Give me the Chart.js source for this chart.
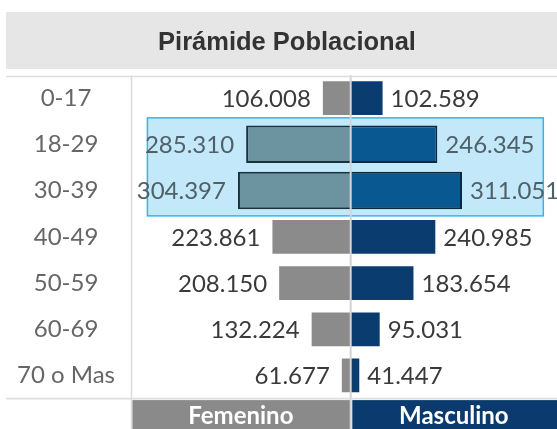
<!DOCTYPE html>
<html><head><meta charset="utf-8">
<script src="https://cdn.jsdelivr.net/npm/chart.js@4"></script>
<style>html,body{margin:0;padding:0;background:#fff}canvas{display:block}</style>
</head><body>
<canvas id="c" width="557" height="429"></canvas>
<script>
const ageGroups = ['0-17','18-29','30-39','40-49','50-59','60-69','70 o Mas'];
const femenino = [106008,285310,304397,223861,208150,132224,61677];
const masculino = [102589,246345,311051,240985,183654,95031,41447];
const highlighted = ['18-29','30-39'];
const sexLabels = ['Femenino','Masculino'];
const chartTitle = 'Pirámide Poblacional';
const gridTicks = [200000, 400000];

const isHL = i => highlighted.includes(ageGroups[i]);
const pick = (arr, hl) => arr.map((v,i) => isHL(i) === hl ? v : null);
const fmt = v => String(v).replace(/\B(?=(\d{3})+(?!\d))/g, '.');

const gridColor = ctx => gridTicks.includes(ctx.tick && ctx.tick.value) ? '#ebebeb' : 'rgba(0,0,0,0)';

const deco = {
  id: 'deco',
  beforeDraw(chart) {
    const {ctx} = chart; const W = chart.width, H = chart.height;
    const t = chart.titleBlock, xF = chart.scales.xF, xM = chart.scales.xM;
    ctx.save();
    ctx.fillStyle = '#fff'; ctx.fillRect(0, 0, W, H);
    ctx.fillStyle = '#e6e6e6'; ctx.fillRect(6, t.top, W - 6, 57);
    ctx.fillStyle = '#8a8a8a'; ctx.fillRect(xF.left + 1.3, xF.top + 1.5, xF.right - xF.left - 1.3, H);
    ctx.fillStyle = '#0b3b6e'; ctx.fillRect(xM.left + 1.6, xM.top + 1.5, xM.right - xM.left, H);
    ctx.restore();
  },
  beforeDatasetsDraw(chart) {
    const {ctx, chartArea: a} = chart; const y = chart.scales.y;
    const idx = highlighted.map(h => ageGroups.indexOf(h));
    const top = y.getPixelForValue(Math.min(...idx)) - 26.5;
    const bot = y.getPixelForValue(Math.max(...idx)) + 25.3;
    const l = a.left + 16.4, r = a.right - 13.7;
    ctx.save();
    ctx.fillStyle = 'rgba(135,210,245,0.5)';
    ctx.fillRect(l, top, r - l, bot - top);
    ctx.strokeStyle = '#33b6ec'; ctx.lineWidth = 1.5;
    ctx.strokeRect(l, top, r - l, bot - top);
    ctx.restore();
  },
  afterDatasetsDraw(chart) {
    const {ctx, chartArea: a} = chart; const W = chart.width, H = chart.height;
    const xF = chart.scales.xF;
    ctx.save();
    // center line
    ctx.strokeStyle = '#d4d4d4'; ctx.lineWidth = 2;
    ctx.beginPath(); ctx.moveTo(xF.right, a.top); ctx.lineTo(xF.right, H); ctx.stroke();
    // separator
    ctx.strokeStyle = '#dcdcdc'; ctx.lineWidth = 1.5;
    ctx.beginPath(); ctx.moveTo(a.left + 0.5, a.top); ctx.lineTo(a.left + 0.5, H); ctx.stroke();
    // horizontal lines
    ctx.strokeStyle = '#dedede'; ctx.lineWidth = 1.7;
    ctx.beginPath(); ctx.moveTo(6, a.top + 1.5); ctx.lineTo(W, a.top + 1.5); ctx.stroke();
    ctx.beginPath(); ctx.moveTo(6, a.bottom); ctx.lineTo(W, a.bottom); ctx.stroke();
    // value labels
    ctx.font = '24px Lato';
    ctx.textBaseline = 'middle';
    chart.data.datasets.forEach((ds, di) => {
      const meta = chart.getDatasetMeta(di);
      const female = ds.xAxisID === 'xF';
      meta.data.forEach((el, i) => {
        const v = ds.data[i];
        if (v == null) return;
        ctx.fillStyle = isHL(i) ? '#4f6068' : '#3a3a3a';
        if (female) { ctx.textAlign = 'right'; ctx.fillText(fmt(v), el.x - 12, el.y + 1); }
        else { ctx.textAlign = 'left'; ctx.fillText(fmt(v), el.x + 8, el.y + 1); }
      });
    });
    ctx.restore();
  }
};

const baseBar = { grouped: false, categoryPercentage: 1 };
new Chart(document.getElementById('c'), {
  type: 'bar',
  data: {
    labels: ageGroups,
    datasets: [
      Object.assign({ label: sexLabels[0], xAxisID: 'xF', data: pick(femenino, false), backgroundColor: '#8b8b8b', barPercentage: 0.73 }, baseBar),
      Object.assign({ label: sexLabels[1], xAxisID: 'xM', data: pick(masculino, false), backgroundColor: '#0b3c70', barPercentage: 0.73 }, baseBar),
      Object.assign({ label: sexLabels[0], xAxisID: 'xF', data: pick(femenino, true), backgroundColor: '#6b93a0', borderColor: '#17323d', borderWidth: 2, borderSkipped: false, barPercentage: 0.81 }, baseBar),
      Object.assign({ label: sexLabels[1], xAxisID: 'xM', data: pick(masculino, true), backgroundColor: '#0a5891', borderColor: '#0b2a42', borderWidth: 2, borderSkipped: false, barPercentage: 0.81 }, baseBar)
    ]
  },
  options: {
    indexAxis: 'y',
    responsive: false,
    animation: false,
    layout: { padding: { top: 12, left: 17, right: 0, bottom: 0 } },
    plugins: {
      legend: { display: false },
      tooltip: { enabled: false },
      title: { display: true, text: chartTitle, color: '#333', font: { family: '"Liberation Sans", Arial, sans-serif', size: 25.5, weight: 'bold', lineHeight: 1.2 }, padding: { top: 15.5, bottom: 16.9 } }
    },
    scales: {
      y: {
        type: 'category', offset: true,
        grid: { display: false, drawTicks: false },
        border: { display: false },
        ticks: { font: { family: 'Lato', size: 24 }, color: '#666', crossAlign: 'center', padding: 16 },
        afterFit: s => { s.width = 114; }
      },
      xF: {
        type: 'linear', position: 'bottom', stack: 'sex', stackWeight: 219.7, reverse: true,
        min: 41000, max: 554300,
        ticks: { display: false, stepSize: 200000 },
        grid: { drawTicks: false, color: gridColor, lineWidth: 1 },
        border: { display: false },
        title: { display: true, text: sexLabels[0], color: '#fff', font: { family: 'Lato', size: 24, weight: 'bold', lineHeight: 0.84 }, padding: { top: 8, bottom: 0 } }
      },
      xM: {
        type: 'linear', position: 'bottom', stack: 'sex', stackWeight: 206.3,
        min: 18900, max: 560400,
        ticks: { display: false, stepSize: 200000 },
        grid: { drawTicks: false, color: gridColor, lineWidth: 1 },
        border: { display: false },
        title: { display: true, text: sexLabels[1], color: '#fff', font: { family: 'Lato', size: 24, weight: 'bold', lineHeight: 0.84 }, padding: { top: 8, bottom: 0 } }
      }
    }
  },
  plugins: [deco]
});
</script>
</body></html>
